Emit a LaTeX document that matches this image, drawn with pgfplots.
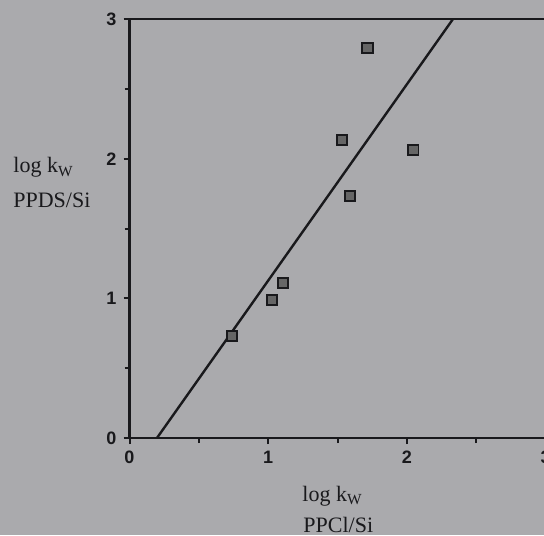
\documentclass[border=0pt]{standalone}
\usepackage{pgfplots}
\pgfplotsset{compat=1.18}
\usepackage{fontspec}
\setmainfont{Liberation Serif}
\newfontfamily\tickfont{Liberation Sans}
\definecolor{paper}{RGB}{170,170,173}
\definecolor{ink}{RGB}{25,25,28}
\begin{document}
\begin{tikzpicture}
\fill[paper] (0,0) rectangle (272pt,267.5pt);
\useasboundingbox (0,0) rectangle (272pt,267.5pt);
\begin{axis}[
  at={(64.75pt,48.5pt)}, anchor=south west,
  scale only axis, width=208pt, height=209.4pt,
  xmin=0, xmax=3, ymin=0, ymax=3,
  axis x line*=bottom, axis y line*=left,
  axis line style={line width=1.3pt, ink},
  xtick={0,1,2,3}, ytick={0,1,2,3},
  minor xtick={0.5,1.5,2.5}, minor ytick={0.5,1.5,2.5},
  tick align=outside,
  major tick length=3pt, minor tick length=2.5pt,
  every tick/.style={ink, line width=1pt},
  /pgf/number format/assume math mode=true,
  ticklabel style={font=\tickfont\bfseries\fontsize{9}{9}\selectfont, text=ink},
  clip=false,
]
\draw[line width=1.3pt, ink] (axis cs:0,3) -- (axis cs:3,3);
\addplot[ink, line width=1.2pt] coordinates {(0.198,0) (2.332,3)};
\addplot[only marks, mark=square*, mark size=2.6pt,
  mark options={draw=ink, fill=black!60, line width=0.9pt}] coordinates {
  (0.739,0.731) (1.027,0.989) (1.107,1.110) (1.532,2.135)
  (1.590,1.734) (1.716,2.794) (2.047,2.063)
};
\end{axis}
\node[anchor=base west, font=\fontsize{11}{11}\selectfont, text=ink, inner sep=0pt] at (6.5pt,181pt) {log k\textsubscript{W}};
\node[anchor=base west, font=\fontsize{11}{11}\selectfont, text=ink, inner sep=0pt] at (6.5pt,163.5pt) {PPDS/Si};
\node[anchor=base west, font=\fontsize{11}{11}\selectfont, text=ink, inner sep=0pt] at (151pt,17pt) {log k\textsubscript{W}};
\node[anchor=base west, font=\fontsize{11}{11}\selectfont, text=ink, inner sep=0pt] at (151.5pt,1.5pt) {PPCl/Si};
\end{tikzpicture}
\end{document}
